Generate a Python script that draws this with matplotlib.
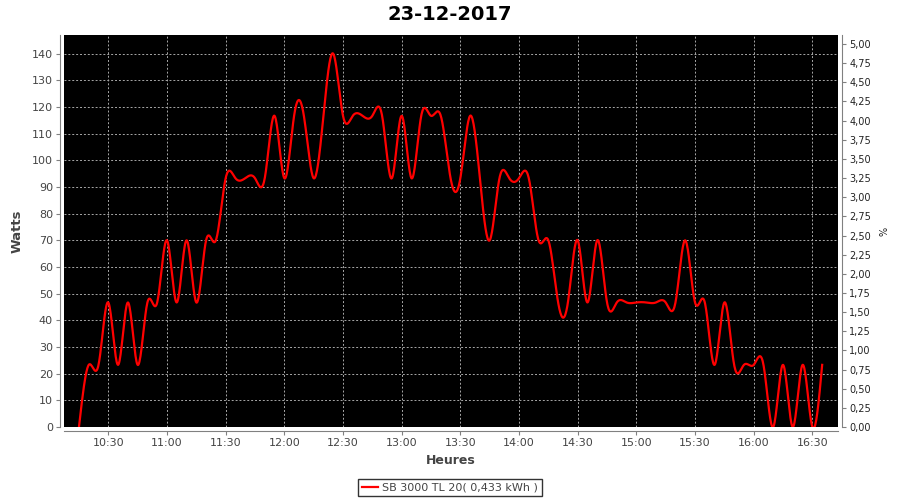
import numpy as np
import matplotlib
matplotlib.use("Agg")
import matplotlib.pyplot as plt
from matplotlib.lines import Line2D

# ---------------- data ----------------
title = "23-12-2017"
start_time = "10:15"      # first sample
step_minutes = 5          # sampling interval
watts = [0.0, 23.3, 23.3, 46.7, 23.3, 46.7, 23.3, 46.7, 46.7, 70.0,
         46.7, 70.0, 46.7, 70.0, 70.0, 93.3, 93.3, 93.3, 93.3, 93.3,
         116.7, 93.3, 116.7, 116.7, 93.3, 116.7, 140.0, 116.7, 116.7, 116.7,
         116.7, 116.7, 93.3, 116.7, 93.3, 116.7, 116.7, 116.7, 93.3, 93.3,
         116.7, 93.3, 70.0, 93.3, 93.3, 93.3, 93.3, 70.0, 70.0, 46.7,
         46.7, 70.0, 46.7, 70.0, 46.7, 46.7, 46.7, 46.7, 46.7, 46.7,
         46.7, 46.7, 70.0, 46.7, 46.7, 23.3, 46.7, 23.3, 23.3, 23.3,
         23.3, 0.0, 23.3, 0.0, 23.3, 0.0, 23.3]
x_tick_labels = ["10:30", "11:00", "11:30", "12:00", "12:30", "13:00", "13:30",
                 "14:00", "14:30", "15:00", "15:30", "16:00", "16:30"]
watt_ticks = [0, 10, 20, 30, 40, 50, 60, 70, 80, 90, 100, 110, 120, 130, 140]
pct_ticks = [0.0, 0.25, 0.5, 0.75, 1.0, 1.25, 1.5, 1.75, 2.0, 2.25, 2.5,
             2.75, 3.0, 3.25, 3.5, 3.75, 4.0, 4.25, 4.5, 4.75, 5.0]
legend_label = "SB 3000 TL 20( 0,433 kWh )"


def to_hours(s):
    h, m = s.split(":")
    return int(h) + int(m) / 60.0


t0 = to_hours(start_time)
hours = np.array([t0 + i * step_minutes / 60.0 for i in range(len(watts))])
vals = np.array(watts)


def natural_spline(x, y, xs):
    n = len(x)
    h = np.diff(x)
    A = np.zeros((n, n))
    r = np.zeros(n)
    A[0, 0] = 1.0
    A[-1, -1] = 1.0
    for i in range(1, n - 1):
        A[i, i - 1] = h[i - 1]
        A[i, i] = 2 * (h[i - 1] + h[i])
        A[i, i + 1] = h[i]
        r[i] = 6 * ((y[i + 1] - y[i]) / h[i] - (y[i] - y[i - 1]) / h[i - 1])
    M = np.linalg.solve(A, r)
    idx = np.clip(np.searchsorted(x, xs) - 1, 0, n - 2)
    xi, xi1 = x[idx], x[idx + 1]
    hi = xi1 - xi
    a = (xi1 - xs) / hi
    b = (xs - xi) / hi
    return (a * y[idx] + b * y[idx + 1]
            + ((a ** 3 - a) * M[idx] + (b ** 3 - b) * M[idx + 1]) * hi ** 2 / 6)


xs = np.linspace(hours[0], hours[-1], 1500)
ys = natural_spline(hours, vals, xs)

# ---------------- figure ----------------
fig = plt.figure(figsize=(9, 5), dpi=100)
L, R, T, B = 64, 838, 35, 427
ax = fig.add_axes([L / 900, 1 - B / 500, (R - L) / 900, (B - T) / 500])
ax.set_facecolor("black")

ax.plot(xs, ys, color="#ff0000", lw=1.6, solid_joinstyle="round")

xt = [to_hours(s) for s in x_tick_labels]
ax.set_xticks(xt)
ax.set_xticklabels(x_tick_labels)
ax.set_xlim(to_hours("10:07") + 0.35 / 60, to_hours("16:43") + 0.1 / 60)
ax.set_ylim(0, 147)
ax.set_yticks(watt_ticks)
ax.set_yticklabels([str(v) for v in watt_ticks])

ax.grid(True, color="#a8a8a8", linestyle=(0, (2, 2)), linewidth=0.7)
ax.set_axisbelow(True)

grey = "#808080"
for s in ["top", "right"]:
    ax.spines[s].set_visible(False)
for s in ["left", "bottom"]:
    ax.spines[s].set_color(grey)
    ax.spines[s].set_position(("outward", 3))
ax.tick_params(axis="both", colors=grey, length=3, width=0.8, labelsize=8,
               labelcolor="#444444", pad=2)

ax.set_xlabel("Heures", fontsize=9, fontweight="bold", color="#444444", labelpad=4)
ax.set_ylabel("Watts", fontsize=9.5, fontweight="bold", color="#444444", labelpad=6)

# right axis (%)
ax2 = ax.twinx()
ax2.set_ylim(0, 5.118)
ax2.set_yticks(pct_ticks)
ax2.set_yticklabels([("%.2f" % v).replace(".", ",") for v in pct_ticks])
for s in ["top", "left", "bottom"]:
    ax2.spines[s].set_visible(False)
ax2.spines["right"].set_color(grey)
ax2.spines["right"].set_position(("outward", 3))
ax2.tick_params(axis="y", colors=grey, length=3, width=0.8, labelsize=7,
                labelcolor="#222222", pad=2)
ax2.set_ylabel("%", fontsize=7, color="#222222", labelpad=6)

fig.text(0.5, 1 - 14 / 500, title, ha="center", va="center",
         fontsize=14, fontweight="bold", color="black")

handle = Line2D([0], [0], color="#ff0000", lw=1.6)
leg = fig.legend([handle], [legend_label], loc="center",
                 bbox_to_anchor=(450 / 900, 1 - 487.5 / 500),
                 fontsize=8, frameon=True, fancybox=False, handlelength=1.4,
                 handletextpad=0.4, borderpad=0.35, borderaxespad=0)
leg.get_frame().set_edgecolor("black")
leg.get_frame().set_linewidth(1.0)
for t in leg.get_texts():
    t.set_color("#444444")

fig.savefig("out.png", dpi=100, facecolor="white")
